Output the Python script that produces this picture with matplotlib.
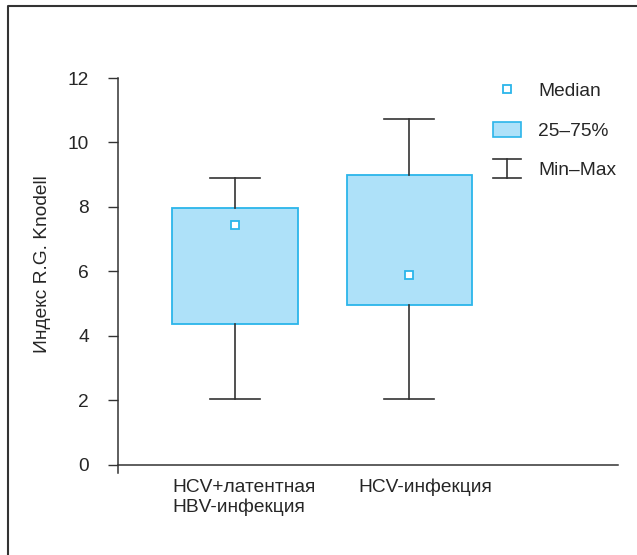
import matplotlib.pyplot as plt
from matplotlib.lines import Line2D
from matplotlib.patches import Patch
from matplotlib.legend_handler import HandlerBase

dbl_width  = 637.0
dbl_height = 555.0
dbl_dpi    = 100.0

plt.rcParams['font.family'] = ['Liberation Sans', 'DejaVu Sans']

# data
groups   = ['HCV+латентная\nHBV-инфекция', 'HCV-инфекция']
q1       = [4.37, 4.95]
q3       = [7.96, 9.00]
medians  = [7.43, 5.88]
mins     = [2.05, 2.05]
maxs     = [8.90, 10.72]
label_dx = [-0.36, -0.29]

face    = '#aee1f9'
edge    = '#2bb5ea'
dark    = '#333333'
txt_col = '#262626'
fs      = 13.8

positions = list(range(1, len(groups) + 1))

stats = []
for i in range(len(groups)):
    stats.append(dict(med=medians[i], q1=q1[i], q3=q3[i],
                      whislo=mins[i], whishi=maxs[i], fliers=[]))

fig = plt.figure(figsize=(dbl_width / dbl_dpi, dbl_height / dbl_dpi), dpi=dbl_dpi)
ax = fig.add_axes([118 / 637, 1 - 473 / 555, 500 / 637, 395 / 555])

ax.bxp(stats, positions=positions, widths=0.72, capwidths=0.29,
       patch_artist=True, showfliers=False,
       boxprops=dict(facecolor=face, edgecolor=edge, lw=1.3),
       whiskerprops=dict(color=dark, lw=1.2),
       capprops=dict(color=dark, lw=1.2),
       medianprops=dict(visible=False))
ax.plot(positions, medians, 's', ls='none', ms=5.5, mfc='white', mec=edge,
        mew=1.3, zorder=5)

ax.set_xlim(0.327, 3.2)
ax.set_ylim(-0.25, 12)
ax.set_yticks([0, 2, 4, 6, 8, 10, 12])
ax.set_xticks([])
ax.spines['top'].set_visible(False)
ax.spines['right'].set_visible(False)
ax.spines['bottom'].set_position(('data', 0))
ax.spines['left'].set_bounds(-0.25, 12)
for s in ('left', 'bottom'):
    ax.spines[s].set_color(dark)
    ax.spines[s].set_linewidth(1.1)
ax.tick_params(axis='y', direction='out', length=7, width=1, color=dark,
               pad=14, labelsize=fs, labelcolor=txt_col)

ax.set_ylabel('Индекс R.G. Knodell', fontsize=fs, color=txt_col)
ax.yaxis.set_label_coords(-0.134, 0.53)

for p, g, dx in zip(positions, groups, label_dx):
    ax.annotate(g, xy=(p + dx, 0), xycoords=('data', 'axes fraction'),
                xytext=(0, -4), textcoords='offset points',
                ha='left', va='top', fontsize=fs, color=txt_col,
                linespacing=1.24)


class HandlerMinMax(HandlerBase):
    def create_artists(self, legend, orig_handle, xdescent, ydescent,
                       width, height, fontsize, trans):
        x0, x1 = -xdescent, -xdescent + width
        xm = (x0 + x1) / 2
        yc = -ydescent + height / 2
        h = height * 0.62
        kw = dict(color=dark, lw=1.2, transform=trans)
        return [Line2D([x0, x1], [yc + h, yc + h], **kw),
                Line2D([x0, x1], [yc - h, yc - h], **kw),
                Line2D([xm, xm], [yc - h, yc + h], **kw)]


h_med = Line2D([], [], marker='s', ls='none', ms=5.5, mfc='white', mec=edge, mew=1.3)
h_box = Patch(facecolor=face, edgecolor=edge, lw=1.2)
h_rng = object()

leg = ax.legend([h_med, h_box, h_rng], ['Median', '25–75%', 'Min–Max'],
                handler_map={object: HandlerMinMax()},
                loc='upper left', bbox_to_anchor=(0.75, 0.99),
                frameon=False, fontsize=fs, borderpad=0, borderaxespad=0,
                handlelength=1.46, handleheight=0.83, handletextpad=0.9,
                labelspacing=1.12, labelcolor=txt_col)

# outer frame (top and left only)
fig.add_artist(Line2D([8 / 637, 8 / 637, 1], [0, 1 - 6 / 555, 1 - 6 / 555],
                      transform=fig.transFigure, color=dark, lw=1.5))

fig.savefig('out.png', dpi=dbl_dpi)
